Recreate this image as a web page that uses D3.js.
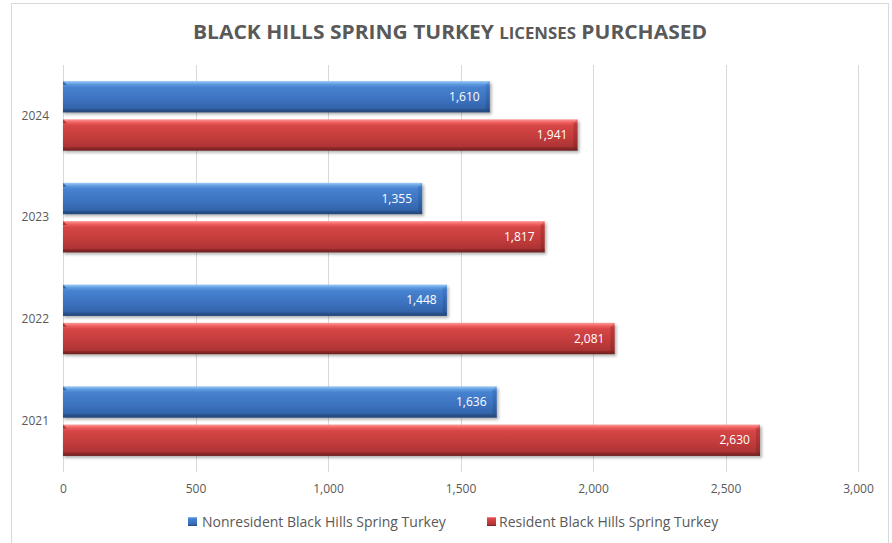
<!DOCTYPE html>
<html><head><meta charset="utf-8">
<script src="https://cdn.jsdelivr.net/npm/d3@7"></script>
<style>
html,body{margin:0;padding:0;background:#fff;}
svg{display:block;font-family:"Open Sans",sans-serif;}
</style></head>
<body><svg id="c" width="892" height="543"></svg>
<script>
const years = ["2024","2023","2022","2021"];
const seriesNames = ["Nonresident Black Hills Spring Turkey","Resident Black Hills Spring Turkey"];
const nonresident = [1610,1355,1448,1636];
const resident = [1941,1817,2081,2630];
const xTicks = [0,500,1000,1500,2000,2500,3000];

const svg = d3.select("#c");
const defs = svg.append("defs");

function grad(id, stops){
  const g = defs.append("linearGradient").attr("id",id).attr("x1",0).attr("y1",0).attr("x2",0).attr("y2",1);
  stops.forEach(s=>g.append("stop").attr("offset",s[0]).attr("stop-color",s[1]));
}
grad("gBlue",[[0,"#9ccaf6"],[0.1,"#5d9be0"],[0.2,"#4682cf"],[0.6,"#3c72c0"],[0.88,"#3263a8"],[0.9,"#2a5590"],[1,"#22467a"]]);
grad("gRed",[[0,"#ff9a9a"],[0.1,"#ef5f5f"],[0.2,"#d64646"],[0.6,"#c23b3b"],[0.88,"#ad3333"],[0.9,"#922a2a"],[1,"#6e1f1f"]]);
grad("gBlueEnd",[[0,"#7fb0ea"],[0.15,"#3f78c6"],[0.85,"#2c5a9a"],[1,"#1e3f6c"]]);
grad("gRedEnd",[[0,"#f08080"],[0.15,"#c03a3a"],[0.85,"#9a2d2d"],[1,"#611b1b"]]);
const f = defs.append("filter").attr("id","sh").attr("x","-5%").attr("y","-30%").attr("width","110%").attr("height","180%");
f.append("feGaussianBlur").attr("stdDeviation",1.4);

// frame
svg.append("rect").attr("x",11.5).attr("y",3.5).attr("width",877).attr("height",560)
  .attr("fill","none").attr("stroke","#d9d9d9").attr("stroke-width",1);

// title
const title = svg.append("text").attr("x",450).attr("y",39).attr("text-anchor","middle")
  .attr("fill","#595959").attr("font-weight","bold").attr("font-size",20)
  .attr("textLength",514).attr("lengthAdjust","spacingAndGlyphs");
title.append("tspan").text("BLACK HILLS SPRING TURKEY ");
title.append("tspan").attr("font-size",16).text("LICENSES");
title.append("tspan").text(" PURCHASED");

const x = d3.scaleLinear().domain([0,3000]).range([63,858]);
const y0 = d3.scaleBand().domain(years).range([65,472]);
const y1 = d3.scaleBand().domain([0,1]).range([0,y0.bandwidth()]).paddingInner(0.18).paddingOuter(0.42);

// gridlines
svg.append("g").selectAll("line").data(xTicks).join("line")
  .attr("x1",d=>Math.round(x(d))+0.5).attr("x2",d=>Math.round(x(d))+0.5)
  .attr("y1",65).attr("y2",472).attr("stroke","#d9d9d9").attr("stroke-width",1);

// x axis labels
const xAxis = d3.axisBottom(x).tickValues(xTicks).tickFormat(d3.format(",")).tickSize(0).tickPadding(0);
const gx = svg.append("g").attr("transform","translate(0,482)").call(xAxis);
gx.select(".domain").remove();
gx.selectAll("text").attr("font-size",12).attr("fill","#595959").attr("font-family","Open Sans").attr("dy","0.9em");

// y axis labels
const yAxis = d3.axisLeft(y0).tickSize(0).tickPadding(14);
const gy = svg.append("g").attr("transform","translate(63,0)").call(yAxis);
gy.select(".domain").remove();
gy.selectAll("text").attr("font-size",12).attr("fill","#595959").attr("font-family","Open Sans");

const data = [];
years.forEach((yr,i)=>{
  data.push({yr, s:0, v:nonresident[i]});
  data.push({yr, s:1, v:resident[i]});
});

const bars = svg.append("g").selectAll("g").data(data).join("g")
  .attr("transform",d=>`translate(0,${y0(d.yr)+y1(d.s)})`);
const h = y1.bandwidth();
// shadow
bars.append("rect").attr("x",x(0)+1).attr("y",2).attr("width",d=>x(d.v)-x(0)+1).attr("height",h)
  .attr("fill","#000").attr("opacity",0.3).attr("filter","url(#sh)");
bars.append("rect").attr("x",x(0)).attr("y",0).attr("width",d=>x(d.v)-x(0)).attr("height",h)
  .attr("fill",d=>d.s===0?"url(#gBlue)":"url(#gRed)");
// right bevel end
bars.append("path").attr("d",d=>{
  const xe=x(d.v), b=4;
  return `M${xe-b},${b} L${xe},0 L${xe},${h} L${xe-b},${h-b} Z`;
}).attr("fill",d=>d.s===0?"url(#gBlueEnd)":"url(#gRedEnd)");
// left top bevel
bars.append("path").attr("d",()=>{
  const xs=x(0);
  return `M${xs},0 L${xs+4},4 L${xs},4 Z`;
}).attr("fill",d=>d.s===0?"#2a5590":"#8a2626").attr("opacity",0.7);
// value labels
bars.append("text").attr("x",d=>x(d.v)-10).attr("y",h/2).attr("dy","0.35em")
  .attr("text-anchor","end").attr("fill","#fff").attr("font-size",12)
  .text(d=>d3.format(",")(d.v));

// legend
const legend = [{n:seriesNames[0],g:"url(#gBlue)",x:188,tx:202},{n:seriesNames[1],g:"url(#gRed)",x:487,tx:499}];
const lg = svg.append("g").selectAll("g").data(legend).join("g");
lg.append("rect").attr("x",d=>d.x).attr("y",517).attr("width",9).attr("height",9).attr("fill",d=>d.g);
lg.append("text").attr("x",d=>d.tx).attr("y",527).attr("font-size",14).attr("fill","#595959").text(d=>d.n);
</script></body></html>
